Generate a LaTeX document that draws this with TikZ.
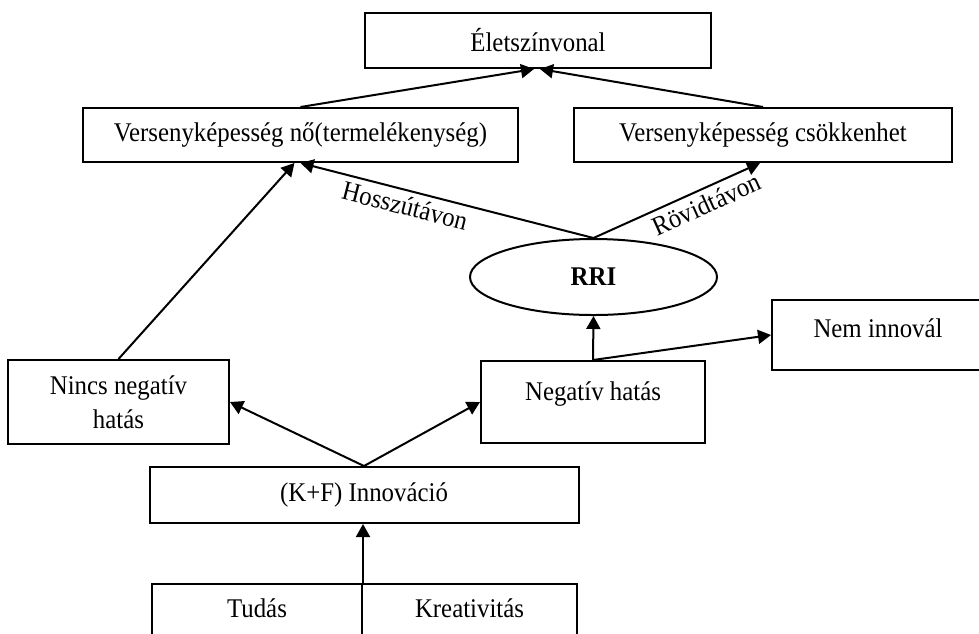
\documentclass[tikz,border=0pt]{standalone}
\usepackage{fontspec}
\setmainfont{Liberation Serif}[FakeStretch=0.92]
\usetikzlibrary{shapes.geometric,arrows.meta}
\tikzset{
    doboz/.style={draw, line width=1pt, inner sep=0pt, align=center, font=\fontsize{13.5}{17}\selectfont},
    nyil/.style={line width=1pt, -{Triangle[length=6.5pt,width=7pt]}},
    cimke/.style={font=\fontsize{13.5}{17}\selectfont, sloped, below, inner sep=2.5pt}
}
\begin{document}
\begin{tikzpicture}[x=0.5pt,y=-0.5pt]
        \useasboundingbox (0,0) rectangle (979,633);

        % ~~~~ Dobozok ~~~~ %
        \node[doboz, minimum width=173pt, minimum height=27.5pt] (elet) at (538,40.5) {Életszínvonal};
        \node[doboz, minimum width=217.5pt, minimum height=27pt] (vno) at (300.5,135) {Versenyképesség nő(termelékenység)};
        \node[doboz, minimum width=189pt, minimum height=27pt] (vcs) at (763,135) {Versenyképesség csökkenhet};
        \node[doboz, ellipse, minimum width=123.5pt, minimum height=38pt] (rri) at (593.5,277) {\bfseries RRI};
        \node[doboz, minimum width=110.5pt, minimum height=42pt] (nincs) at (118.5,402) {Nincs negatív\\hatás};
        \node[doboz, anchor=north, minimum width=112pt, text height=19.5pt, text depth=21.5pt] (neg) at (593,360) {Negatív hatás};
        \node[doboz, anchor=north, minimum width=106pt, text height=18.5pt, text depth=16.5pt] (nem) at (878,299) {Nem innovál};
        \node[doboz, minimum width=214.5pt, minimum height=28pt] (kf) at (364,495) {(K+F) Innováció};
        \node[doboz, anchor=north, minimum width=105pt, text height=16.5pt, text depth=20pt] (tudas) at (257,583) {Tudás};
        \node[doboz, anchor=north, minimum width=107.5pt, text height=16.5pt, text depth=20pt] (kreat) at (469.5,583) {Kreativitás};

        % ~~~~ Nyilak ~~~~ %
        \draw[nyil] (vno.north) -- ([xshift=-2pt]elet.south);
        \draw[nyil] (vcs.north) -- ([xshift=1pt]elet.south);
        \draw[nyil] (rri.north) -- node[cimke, pos=0.63] {Hosszútávon} (vno.south);
        \draw[nyil] (rri.north) -- node[cimke, pos=0.64] {Rövidtávon} ([xshift=-1.5pt]vcs.south);
        \draw[nyil] (nincs.north) -- ([xshift=-3pt]vno.south);
        \draw[nyil] (neg.north) -- (rri.south);
        \draw[nyil] (neg.north) -- (nem.west);
        \draw[nyil] (kf.north) -- (nincs.east);
        \draw[nyil] (kf.north) -- (neg.west);
        \draw[nyil] (tudas.north east) -- (tudas.north east |- kf.south);
    \end{tikzpicture}
\end{document}
